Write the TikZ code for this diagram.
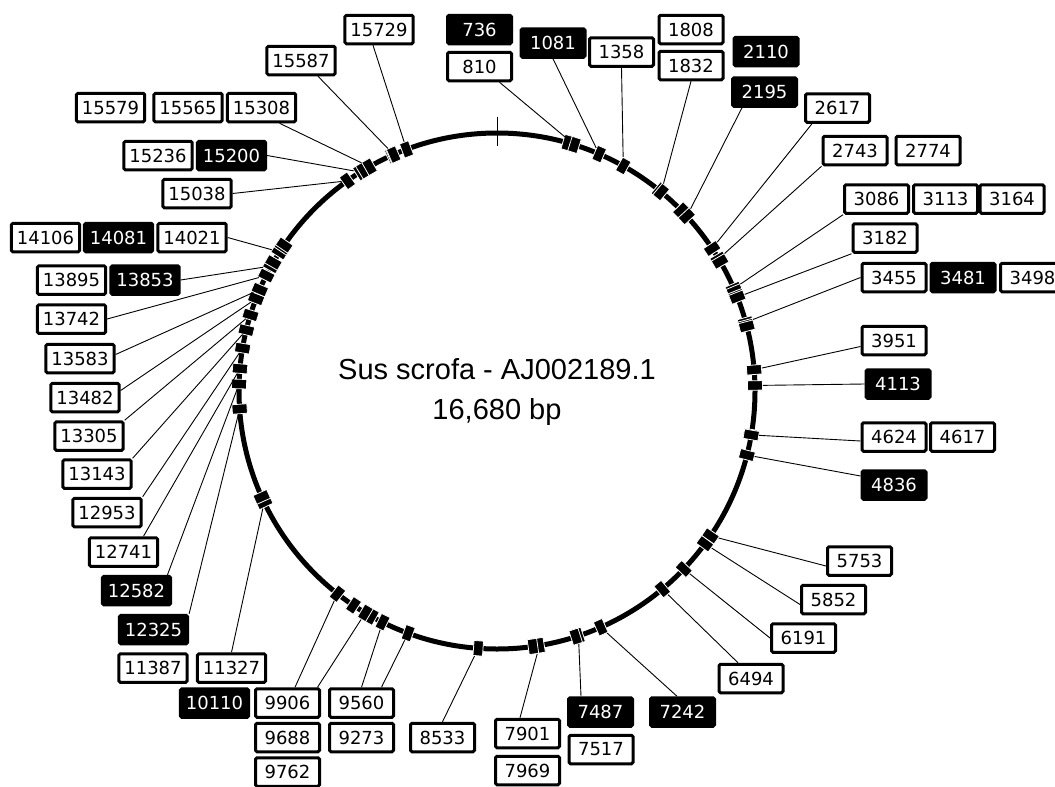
\documentclass[tikz,border=0pt]{standalone}
\usepackage{fontspec}
\setmainfont{DejaVu Sans}
\newfontfamily\titlefont{Liberation Sans}
\begin{document}
\begin{tikzpicture}[x=1pt,y=-1pt,
  lbl/.style={draw=black, line width=3pt, rounded corners=1.5pt, minimum width=64pt, minimum height=28.5pt, inner xsep=5.5pt, inner ysep=0pt, font=\fontsize{18}{18}\selectfont},
  wb/.style={lbl, fill=white, text=black},
  bb/.style={lbl, fill=black, text=white},
  mk/.style={rectangle, fill=black, draw=white, line width=0.8pt, minimum width=9.5pt, minimum height=15pt, inner sep=0pt},
  con/.style={line width=0.9pt}]
\useasboundingbox (0,0) rectangle (1055,787);
\coordinate (C) at (497,391);
% backbone
\draw[line width=5pt] (C) circle[radius=258pt];
\draw[line width=1pt] (497,117) -- (497,146);
% markers
\foreach \p in {736,810,1081,1358,1808,1832,2110,2195,2617,2743,2774,3086,3113,3164,3182,3455,3481,3498,3951,4113,4617,4624,4836,5753,5852,6191,6494,7242,7487,7517,7901,7969,8533,9273,9560,9688,9762,9906,10110,11327,11387,12325,12582,12741,12953,13143,13305,13482,13583,13742,13853,13895,14021,14081,14106,15038,15200,15236,15308,15565,15579,15587,15729}{
  \pgfmathsetmacro\a{\p/1668*36}
  \node[mk, rotate=-\a] (m\p) at ({497+258*sin(\a)},{391-258*cos(\a)}) {};
}
% centre text
\node[font=\titlefont\fontsize{29}{30}\selectfont, anchor=base] (t1) at (497,379) {Sus scrofa - AJ002189.1};
\node[font=\titlefont\fontsize{29}{30}\selectfont, anchor=base] (t2) at (497,419) {16,680 bp};
% labels
\node[wb] (b15729) at (379,29.5) {15729};
\node[wb] (b15587) at (301,60.5) {15587};
\node[wb] (b15579) at (110.5,107.5) {15579};
\node[wb] (b15565) at (188,107.5) {15565};
\node[wb] (b15308) at (261.5,107.5) {15308};
\node[wb] (b15236) at (158,155.5) {15236};
\node[bb] (b15200) at (231.5,155.5) {15200};
\node[wb] (b15038) at (197,193.5) {15038};
\node[wb] (b14106) at (45.5,237.5) {14106};
\node[bb] (b14081) at (118.5,237.5) {14081};
\node[wb] (b14021) at (192,237.5) {14021};
\node[wb] (b13895) at (71.5,280) {13895};
\node[bb] (b13853) at (145,280) {13853};
\node[wb] (b13742) at (71.5,319) {13742};
\node[wb] (b13583) at (80,358.5) {13583};
\node[wb] (b13482) at (85,397.5) {13482};
\node[wb] (b13305) at (89,436) {13305};
\node[wb] (b13143) at (97,474) {13143};
\node[wb] (b12953) at (107,512.5) {12953};
\node[wb] (b12741) at (123.5,552) {12741};
\node[bb] (b12582) at (136.5,590.5) {12582};
\node[bb] (b12325) at (153.5,629.5) {12325};
\node[wb] (b11387) at (153,668) {11387};
\node[wb] (b11327) at (231.5,668) {11327};
\node[bb] (b10110) at (214.5,703) {10110};
\node[wb] (b9906) at (287.5,703) {9906};
\node[wb] (b9560) at (361.5,703) {9560};
\node[wb] (b9688) at (287.5,737.5) {9688};
\node[wb] (b9273) at (361.5,737.5) {9273};
\node[wb] (b9762) at (287.5,772) {9762};
\node[wb] (b8533) at (442.5,737.5) {8533};
\node[wb] (b7901) at (527.5,733.5) {7901};
\node[wb] (b7969) at (527.5,770.5) {7969};
\node[bb] (b7487) at (600.5,712) {7487};
\node[wb] (b7517) at (601,749.5) {7517};
\node[bb] (b7242) at (682.5,712) {7242};
\node[wb] (b6494) at (751,678.5) {6494};
\node[wb] (b6191) at (803.5,638) {6191};
\node[wb] (b5852) at (833.5,599.5) {5852};
\node[wb] (b5753) at (859.5,561) {5753};
\node[bb] (b4836) at (894,485) {4836};
\node[wb] (b4624) at (894,437) {4624};
\node[wb] (b4617) at (962.5,437) {4617};
\node[bb] (b4113) at (898,384) {4113};
\node[wb] (b3951) at (894,340.5) {3951};
\node[wb] (b3455) at (894,277.5) {3455};
\node[bb] (b3481) at (963,277.5) {3481};
\node[wb] (b3498) at (1032.5,277.5) {3498};
\node[wb] (b3182) at (885,238) {3182};
\node[wb] (b3086) at (876.5,199) {3086};
\node[wb] (b3113) at (945.5,199) {3113};
\node[wb] (b3164) at (1012,199) {3164};
\node[wb] (b2743) at (855,150.5) {2743};
\node[wb] (b2774) at (928,150.5) {2774};
\node[wb] (b2617) at (837.5,108) {2617};
\node[bb] (b2195) at (764.5,92) {2195};
\node[bb] (b2110) at (766,51.5) {2110};
\node[wb] (b1808) at (691,29.5) {1808};
\node[wb] (b1832) at (691,65.5) {1832};
\node[wb] (b1358) at (621.5,52) {1358};
\node[bb] (b1081) at (553,43) {1081};
\node[bb] (b736) at (479.5,29.5) {736};
\node[wb] (b810) at (479.5,66.5) {810};
% connectors
\draw[con] ([xshift=-6pt]b15729.south) -- (m15729);
\draw[con] ([xshift=17pt]b15587.south) -- (m15587);
\draw[con] ([xshift=18pt]b15308.south) -- (m15308);
\draw[con] (b15200.east) -- (m15200);
\draw[con] (b15038.east) -- (m15038);
\draw[con] (b14021.east) -- (m14021);
\draw[con] (b13853.east) -- (m13853);
\draw[con] (b13742.east) -- (m13742);
\draw[con] ([yshift=4pt]b13583.east) -- (m13583);
\draw[con] ([yshift=7pt]b13482.east) -- (m13482);
\draw[con] (b13305.north east) -- (m13305);
\draw[con] (b13143.north east) -- (m13143);
\draw[con] (b12953.north east) -- (m12953);
\draw[con] ([xshift=20pt]b12741.north) -- (m12741);
\draw[con] ([xshift=31pt]b12582.north) -- (m12582);
\draw[con] (b12325.north east) -- (m12325);
\draw[con] (b11327.north) -- (m11327);
\draw[con] ([xshift=7.5pt]b9906.north) -- (m10110);
\draw[con] ([xshift=30pt]b9906.north) -- (m9762);
\draw[con] (b9560.north) -- (m9560);
\draw[con] ([xshift=20pt]b9560.north) -- (m9273);
\draw[con] (b8533.north) -- (m8533);
\draw[con] ([xshift=-7.5pt]b7901.north) -- (m7901);
\draw[con] ([xshift=-19.5pt]b7487.north) -- (m7487);
\draw[con] ([xshift=-5.5pt]b7242.north) -- (m7242);
\draw[con] ([xshift=-13pt]b6494.north) -- (m6494);
\draw[con] (b6191.west) -- (m6191);
\draw[con] ([yshift=-5pt]b5852.west) -- (m5852);
\draw[con] ([yshift=-5pt]b5753.west) -- (m5753);
\draw[con] ([yshift=9pt]b4836.west) -- (m4836);
\draw[con] ([yshift=-4pt]b4624.west) -- (m4624);
\draw[con] (b4113.west) -- (m4113);
\draw[con] ([yshift=-6pt]b3951.west) -- (m3951);
\draw[con] (b3455.west) -- (m3455);
\draw[con] (b3182.south west) -- (m3182);
\draw[con] (b3086.south west) -- (m3086);
\draw[con] (b2743.south west) -- (m2743);
\draw[con] ([xshift=8pt]b2617.south west) -- (m2617);
\draw[con] ([xshift=11pt]b2195.south west) -- (m2195);
\draw[con] (b1832.south) -- (m1832);
\draw[con] (b1358.south) -- (m1358);
\draw[con] (b1081.south) -- (m1081);
\draw[con] ([xshift=20pt]b810.south) -- (m810);
\end{tikzpicture}
\end{document}
